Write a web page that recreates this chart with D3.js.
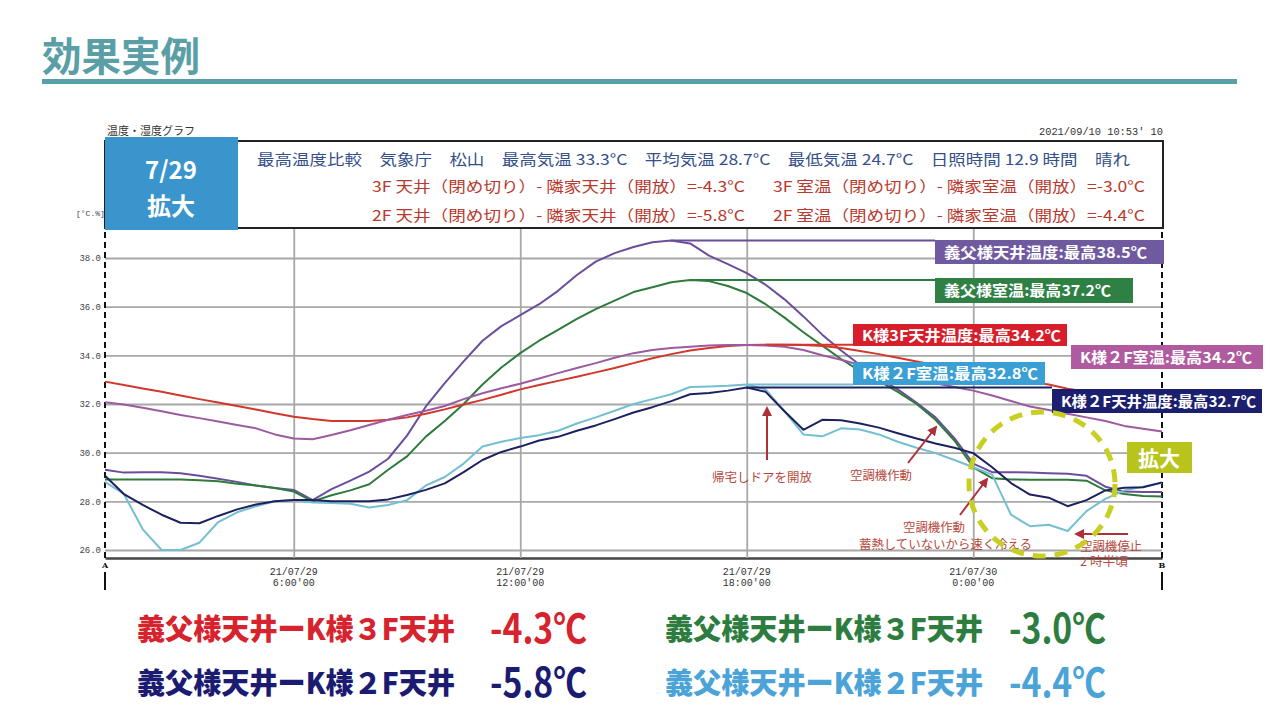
<!DOCTYPE html>
<html>
<head>
<meta charset="utf-8">
<script src="https://cdn.jsdelivr.net/npm/d3@7"></script>
<style>
  body { margin: 0; background: #fff; }
  svg { display: block; }
</style>
</head>
<body>
<div id="container"></div>
<script>
let w = 1280;
let h = 720;
const jp = "'Noto Sans CJK JP', 'Noto Sans', sans-serif";
const mono = "'Liberation Mono', 'DejaVu Sans Mono', monospace";

// sample times, hours from 21/07/29 0:00 (A = 1:00, B = 5:00 next day)
const hours = [1, 1.5, 2, 2.5, 3, 3.5, 4, 4.5, 5, 5.5, 6, 6.5, 7, 7.5, 8, 8.5, 9, 9.5, 10, 10.5,
  11, 11.5, 12, 12.5, 13, 13.5, 14, 14.5, 15, 15.5, 16, 16.5, 17, 17.5, 18, 18.5, 19, 19.5, 20, 20.5,
  21, 21.5, 22, 22.5, 23, 23.5, 24, 24.5, 25, 25.5, 26, 26.5, 27, 27.5, 28, 28.5, 29];

const yTicks = [26, 28, 30, 32, 34, 36, 38];
const xTicks = [6, 12, 18, 24];
const xTickDates = ["21/07/29", "21/07/29", "21/07/29", "21/07/30"];
const xTickTimes = ["6:00'00", "12:00'00", "18:00'00", "0:00'00"];

// 義父様天井温度
const giboCeiling = [29.3, 29.18, 29.2, 29.2, 29.15, 29.05, 28.93, 28.8, 28.65, 28.55, 28.47, 28.05, 28.5, 28.85, 29.22, 29.75, 30.7, 31.9, 32.86, 33.75,
  34.6, 35.2, 35.65, 36.1, 36.65, 37.3, 37.85, 38.2, 38.45, 38.65, 38.72, 38.6, 38.1, 37.75, 37.38, 36.9, 36.3, 35.6, 34.85, 34.2,
  33.6, 33.05, 32.6, 32.05, 31.45, 30.6, 29.55, 29.2, 29.2, 29.18, 29.15, 29.13, 29.05, 28.6, 28.4, 28.38, 28.38];
// 義父様室温
const giboRoom = [28.9, 28.9, 28.9, 28.9, 28.9, 28.87, 28.83, 28.72, 28.65, 28.55, 28.4, 28.0, 28.25, 28.45, 28.7, 29.3, 29.85, 30.66, 31.3, 32.0,
  32.8, 33.5, 34.09, 34.6, 35.05, 35.5, 35.9, 36.25, 36.6, 36.8, 37.0, 37.1, 37.05, 36.85, 36.56, 36.1, 35.55, 34.95, 34.4, 33.85,
  33.35, 32.95, 32.5, 32.0, 31.35, 30.5, 29.4, 28.95, 28.9, 28.89, 28.89, 28.89, 28.85, 28.45, 28.3, 28.22, 28.2];
// K様3F天井温度
const k3fCeiling = [32.92, 32.78, 32.64, 32.5, 32.35, 32.2, 32.06, 31.92, 31.77, 31.62, 31.48, 31.38, 31.3, 31.3, 31.3, 31.35, 31.45, 31.6, 31.78, 31.98,
  32.17, 32.38, 32.6, 32.78, 32.95, 33.12, 33.3, 33.48, 33.68, 33.88, 34.05, 34.2, 34.3, 34.38, 34.42, 34.44, 34.44, 34.42, 34.38, 34.3,
  34.18, 34.05, 33.9, 33.75, 33.6, 33.45, 33.3, 33.15, 33.0, 32.9, 32.8, 32.63, 32.5, 32.35, 32.25, 32.15, 32.05];
// K様室温 (mauve)
const kRoomUpper = [32.07, 31.98, 31.85, 31.7, 31.55, 31.42, 31.28, 31.14, 31.0, 30.75, 30.58, 30.55, 30.73, 30.92, 31.14, 31.35, 31.55, 31.72, 31.92, 32.2,
  32.44, 32.65, 32.83, 33.05, 33.27, 33.48, 33.68, 33.9, 34.09, 34.22, 34.3, 34.35, 34.4, 34.42, 34.42, 34.4, 34.35, 34.22, 34.0, 33.82,
  33.6, 33.4, 33.2, 33.02, 32.85, 32.7, 32.55, 32.35, 32.12, 31.9, 31.75, 31.6, 31.45, 31.3, 31.1, 30.98, 30.87];
// K様2F室温
const k2fRoom = [28.8, 28.3, 26.85, 26.0, 26.0, 26.3, 27.15, 27.55, 27.8, 28.0, 28.05, 27.95, 27.93, 27.9, 27.75, 27.85, 28.05, 28.65, 29.0, 29.55,
  30.25, 30.45, 30.6, 30.72, 30.9, 31.2, 31.45, 31.72, 32.0, 32.2, 32.4, 32.7, 32.72, 32.75, 32.8, 32.6, 31.7, 30.75, 30.67, 31.0,
  30.95, 30.75, 30.45, 30.2, 29.98, 29.7, 29.4, 29.1, 27.45, 26.98, 27.04, 26.78, 27.6, 28.1, 28.45, 28.6, 28.75];
// K様2F天井温度
const k2fCeiling = [29.05, 28.3, 27.85, 27.45, 27.12, 27.1, 27.4, 27.67, 27.87, 28.0, 28.05, 28.05, 28.0, 28.0, 28.0, 28.08, 28.26, 28.47, 28.74, 29.2,
  29.7, 30.03, 30.25, 30.5, 30.65, 30.9, 31.12, 31.38, 31.65, 31.87, 32.12, 32.4, 32.45, 32.55, 32.68, 32.5, 31.7, 30.94, 31.35, 31.33,
  31.2, 31.03, 30.8, 30.58, 30.38, 30.2, 29.98, 29.4, 28.75, 28.28, 28.15, 27.8, 28.05, 28.45, 28.56, 28.58, 28.78];

const labelTexts = ["義父様天井温度:最高38.5℃", "義父様室温:最高37.2℃", "K様3F天井温度:最高34.2℃",
  "K様２F室温:最高34.2℃", "K様２F室温:最高32.8℃", "K様２F天井温度:最高32.7℃"];

const headerLine1 = "最高温度比較　気象庁　松山　最高気温 33.3°C　平均気温 28.7°C　最低気温 24.7°C　日照時間 12.9 時間　晴れ";
const headerDiffs = ["3F 天井（閉め切り）- 隣家天井（開放）=-4.3°C", "3F 室温（閉め切り）- 隣家室温（開放）=-3.0°C",
  "2F 天井（閉め切り）- 隣家天井（開放）=-5.8°C", "2F 室温（閉め切り）- 隣家室温（開放）=-4.4°C"];

const bottomLabels = ["義父様天井ーK様３F天井", "義父様天井ーK様３F天井", "義父様天井ーK様２F天井", "義父様天井ーK様２F天井"];
const bottomValues = ["-4.3℃", "-3.0℃", "-5.8℃", "-4.4℃"];

let series = [
  { values: giboCeiling, color: "#6a4e9c", box: "#6f5a9f", bx: 935, by: 240, bw: 229, bh: 24, tw: 203, lead: true },
  { values: giboRoom, color: "#2e7b3c", box: "#2e8045", bx: 935, by: 278, bw: 198, bh: 25, tw: 167, lead: true },
  { values: k3fCeiling, color: "#d2372b", box: "#d61f2b", bx: 853, by: 324, bw: 214, bh: 22, tw: 199, lead: true },
  { values: kRoomUpper, color: "#9c5aa0", box: "#b05a9f", bx: 1071, by: 345, bw: 192, bh: 24, tw: 172, lead: false },
  { values: k2fRoom, color: "#74bfd0", box: "#3a9fd5", bx: 853, by: 362, bw: 192, bh: 23, tw: 176, lead: true },
  { values: k2fCeiling, color: "#1d2160", box: "#1b1f6e", bx: 1052, by: 389, bw: 210, bh: 24, tw: 195, lead: true }
];

let plotLeft = 105, plotRight = 1162, plotTop = 228, plotBottom = 558;

let svg = d3.select("#container")
  .append("svg")
  .attr("width", w)
  .attr("height", h)
  .style("background-color", "white");

//Title
svg.append("text")
  .text("効果実例")
  .attr("x", 42)
  .attr("y", 71)
  .attr("fill", "#5b9fa6")
  .attr("font-size", "40px")
  .attr("font-weight", 700)
  .attr("font-family", jp)
  .attr("textLength", 158)
  .attr("lengthAdjust", "spacingAndGlyphs");

svg.append("rect")
  .attr("x", 42).attr("y", 79)
  .attr("width", 1195).attr("height", 5)
  .attr("fill", "#5b9fa6");

//Scales
let x = d3.scaleLinear().domain([1, 29]).range([plotLeft, plotRight]);
let y = d3.scaleLinear().domain([26, 38]).range([550, 258]);

//Grid
let yAxis = svg.append("g")
  .attr("transform", "translate(" + plotLeft + ",0)")
  .call(d3.axisLeft(y).tickValues(yTicks).tickSize(-(plotRight - plotLeft)).tickSizeOuter(0).tickFormat(d3.format(".1f")));
yAxis.select(".domain").remove();
yAxis.selectAll(".tick line").attr("stroke", "#a8a8a8").attr("stroke-width", 1.8);
yAxis.selectAll(".tick text")
  .attr("font-family", mono)
  .attr("font-size", "9px")
  .attr("fill", "#444")
  .attr("x", -4);

let xAxis = svg.append("g")
  .attr("transform", "translate(0," + plotBottom + ")")
  .call(d3.axisBottom(x).tickValues(xTicks).tickSize(-(plotBottom - plotTop)).tickSizeOuter(0).tickFormat(""));
xAxis.selectAll(".tick line").attr("stroke", "#a8a8a8").attr("stroke-width", 1.8);
xAxis.select(".domain").attr("stroke", "#444").attr("stroke-width", 2.5);

xTicks.forEach(function(t, i) {
  svg.append("text")
    .text(xTickDates[i])
    .attr("x", x(t)).attr("y", 575)
    .attr("text-anchor", "middle")
    .attr("font-family", mono).attr("font-size", "10px").attr("fill", "#333");
  svg.append("text")
    .text(xTickTimes[i])
    .attr("x", x(t)).attr("y", 586)
    .attr("text-anchor", "middle")
    .attr("font-family", mono).attr("font-size", "10px").attr("fill", "#333");
});

svg.append("text").text("[°C.%]")
  .attr("x", 76).attr("y", 216)
  .attr("font-family", mono).attr("font-size", "8px").attr("fill", "#444");

// A / B marker lines
[[plotLeft, "A"], [plotRight, "B"]].forEach(function(m) {
  svg.append("line")
    .attr("x1", m[0]).attr("x2", m[0]).attr("y1", 232).attr("y2", plotBottom)
    .attr("stroke", "#111").attr("stroke-width", 2).attr("stroke-dasharray", "6 4");
  svg.append("text").text(m[1])
    .attr("x", m[0]).attr("y", 568)
    .attr("text-anchor", "middle")
    .attr("font-family", "'DejaVu Serif', serif").attr("font-weight", 700)
    .attr("font-size", "8px").attr("fill", "#111");
  svg.append("line")
    .attr("x1", m[0]).attr("x2", m[0]).attr("y1", 572).attr("y2", 590)
    .attr("stroke", "#111").attr("stroke-width", 2);
});

//Header box
svg.append("text").text("温度・湿度グラフ")
  .attr("x", 107).attr("y", 135)
  .attr("font-family", jp).attr("font-size", "11px").attr("fill", "#333");
svg.append("text").text("2021/09/10 10:53' 10")
  .attr("x", 1163).attr("y", 135)
  .attr("text-anchor", "end")
  .attr("font-family", mono).attr("font-size", "11px").attr("fill", "#333")
  .attr("textLength", 124).attr("lengthAdjust", "spacingAndGlyphs");

svg.append("rect")
  .attr("x", plotLeft).attr("y", 141)
  .attr("width", plotRight - plotLeft + 1).attr("height", plotTop - 141)
  .attr("fill", "white").attr("stroke", "#222").attr("stroke-width", 2);

svg.append("rect")
  .attr("x", 105).attr("y", 137)
  .attr("width", 133).attr("height", 93)
  .attr("fill", "#3a95cc");
svg.append("text").text("7/29")
  .attr("x", 171).attr("y", 179)
  .attr("text-anchor", "middle")
  .attr("font-family", jp).attr("font-weight", 700).attr("font-size", "24px").attr("fill", "white");
svg.append("text").text("拡大")
  .attr("x", 171).attr("y", 215)
  .attr("text-anchor", "middle")
  .attr("font-family", jp).attr("font-weight", 700).attr("font-size", "24px").attr("fill", "white");

svg.append("text").text(headerLine1)
  .attr("x", 257).attr("y", 165)
  .attr("font-family", jp).attr("font-size", "15px").attr("fill", "#34508a")
  .attr("textLength", 873).attr("lengthAdjust", "spacingAndGlyphs");

let diffPos = [[372, 192, 373], [773, 192, 372], [372, 221, 373], [773, 221, 372]];
headerDiffs.forEach(function(t, i) {
  svg.append("text").text(t)
    .attr("x", diffPos[i][0]).attr("y", diffPos[i][1])
    .attr("font-family", jp).attr("font-size", "15px").attr("fill", "#b83a2e")
    .attr("textLength", diffPos[i][2]).attr("lengthAdjust", "spacingAndGlyphs");
});

//Lines
let line = d3.line()
  .x(function(d, i) { return x(hours[i]); })
  .y(function(d) { return y(d); });

svg.selectAll(".series").data(series).enter()
  .append("path")
  .attr("class", "series")
  .attr("d", function(d) { return line(d.values); })
  .attr("fill", "none")
  .attr("stroke", function(d) { return d.color; })
  .attr("stroke-width", 2)
  .attr("stroke-linejoin", "round");

// leader lines from each maximum to its label
series.forEach(function(s) {
  if (!s.lead) return;
  let mi = d3.maxIndex(s.values);
  svg.append("line")
    .attr("x1", x(hours[mi])).attr("x2", s.bx)
    .attr("y1", y(s.values[mi])).attr("y2", y(s.values[mi]))
    .attr("stroke", s.color).attr("stroke-width", 2);
});

series.forEach(function(s, i) {
  svg.append("rect")
    .attr("x", s.bx).attr("y", s.by)
    .attr("width", s.bw).attr("height", s.bh)
    .attr("fill", s.box);
  svg.append("text").text(labelTexts[i])
    .attr("x", s.bx + 9).attr("y", s.by + s.bh / 2 + 5.5)
    .attr("font-family", jp).attr("font-weight", 700).attr("font-size", "15px").attr("fill", "white")
    .attr("textLength", s.tw).attr("lengthAdjust", "spacingAndGlyphs");
});

//Annotations
let annoColor = "#b5493c";
let defs = svg.append("defs");
defs.append("marker")
  .attr("id", "arrow")
  .attr("viewBox", "0 0 10 10")
  .attr("refX", 8).attr("refY", 5)
  .attr("markerWidth", 5).attr("markerHeight", 5)
  .attr("orient", "auto")
  .append("path")
  .attr("d", "M0,0L10,5L0,10Z")
  .attr("fill", "#b0303a");

let arrows = [[767, 460, 767, 408], [908, 463, 936, 427], [960, 515, 987, 479], [1128, 534, 1076, 534]];
arrows.forEach(function(a) {
  svg.append("line")
    .attr("x1", a[0]).attr("y1", a[1]).attr("x2", a[2]).attr("y2", a[3])
    .attr("stroke", "#b0303a").attr("stroke-width", 2)
    .attr("marker-end", "url(#arrow)");
});

let notes = [
  ["帰宅しドアを開放", 712, 482, 100],
  ["空調機作動", 850, 480, 62],
  ["空調機作動", 903, 532, 62],
  ["蓄熱していないから速く冷える", 859, 549, 173],
  ["空調機停止", 1080, 551, 62],
  ["2 時半頃", 1080, 566, 48]
];
notes.forEach(function(n) {
  svg.append("text").text(n[0])
    .attr("x", n[1]).attr("y", n[2])
    .attr("font-family", jp).attr("font-size", "12px").attr("fill", annoColor)
    .attr("textLength", n[3]).attr("lengthAdjust", "spacingAndGlyphs");
});

svg.append("ellipse")
  .attr("cx", 1042).attr("cy", 484)
  .attr("rx", 73).attr("ry", 72)
  .attr("fill", "none")
  .attr("stroke", "#c6cf22").attr("stroke-width", 5)
  .attr("stroke-dasharray", "13 9");

svg.append("rect")
  .attr("x", 1127).attr("y", 442)
  .attr("width", 65).attr("height", 31)
  .attr("fill", "#b8c31b");
svg.append("text").text("拡大")
  .attr("x", 1159).attr("y", 466)
  .attr("text-anchor", "middle")
  .attr("font-family", jp).attr("font-weight", 700).attr("font-size", "21px").attr("fill", "white");

//Bottom summary
let bottomColors = ["#d7232e", "#2e7d40", "#1b1b72", "#4ba3d8"];
let bottomPos = [[137, 640, 490, 643], [665, 640, 1009, 643], [137, 694, 490, 697], [665, 694, 1009, 697]];
bottomLabels.forEach(function(t, i) {
  svg.append("text").text(t)
    .attr("x", bottomPos[i][0]).attr("y", bottomPos[i][1])
    .attr("font-family", jp).attr("font-weight", 900).attr("font-size", "29px")
    .attr("fill", bottomColors[i])
    .attr("textLength", 318).attr("lengthAdjust", "spacingAndGlyphs");
  svg.append("text").text(bottomValues[i])
    .attr("x", bottomPos[i][2]).attr("y", bottomPos[i][3])
    .attr("font-family", jp).attr("font-weight", 700).attr("font-size", "40px")
    .attr("fill", bottomColors[i])
    .attr("textLength", 97).attr("lengthAdjust", "spacingAndGlyphs");
});
</script>
</body>
</html>
